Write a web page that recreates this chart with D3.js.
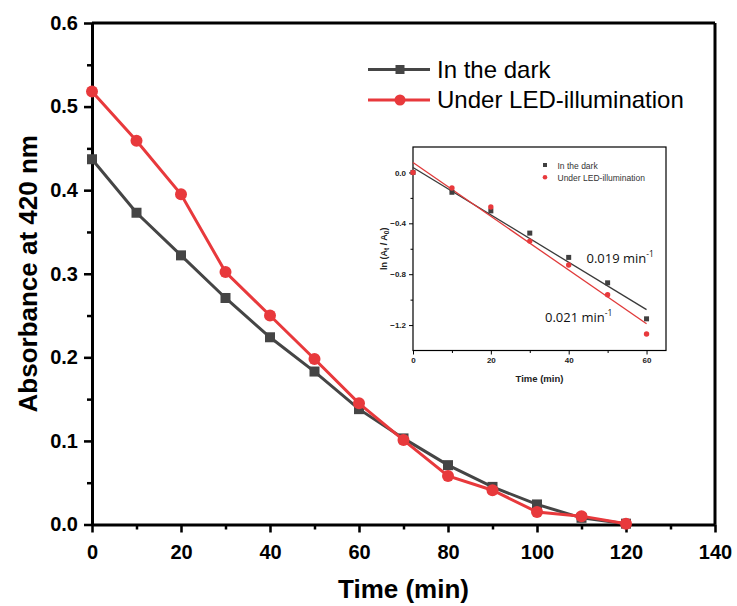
<!DOCTYPE html>
<html><head><meta charset="utf-8">
<script src="https://cdn.jsdelivr.net/npm/d3@7"></script>
<style>body{margin:0;background:#fff}svg{display:block}</style>
</head><body><svg id="c" width="737" height="606"></svg>
<script>
// ---- data ----
const times = [0,10,20,30,40,50,60,70,80,90,100,110,120];
const darkAbs = [0.437,0.373,0.322,0.271,0.224,0.183,0.138,0.103,0.071,0.045,0.024,0.008,0.001];
const ledAbs  = [0.518,0.459,0.395,0.302,0.250,0.198,0.145,0.101,0.058,0.041,0.015,0.010,0.001];
const seriesNames = ["In the dark","Under LED-illumination"];
const xTicks = [0,20,40,60,80,100,120,140];
const yTicks = [0,0.1,0.2,0.3,0.4,0.5,0.6];

const insetTimes = [0,10,20,30,40,50,60];
const insetDark = [0,-0.156,-0.302,-0.477,-0.668,-0.868,-1.151];
const insetLed  = [0,-0.122,-0.272,-0.540,-0.728,-0.962,-1.270];
const fitX = [0,60];
const fitDark = [0.039,-1.079];
const fitLed  = [0.078,-1.190];
const insetXTicks = [0,20,40,60];
const insetYTicks = [0,-0.4,-0.8,-1.2];
const rateLabels = ["0.019 min","0.021 min"];

// ---- styles ----
const C_DARK = "#454545", C_RED = "#e8393c";
const svg = d3.select("#c");
const FONT = "'Liberation Sans', Arial, sans-serif";

// ---- main chart ----
const x = d3.scaleLinear([0,140],[92,715]);
const y = d3.scaleLinear([0,0.6],[524.5,23]);

// frame top/right
svg.append("line").attr("x1",x(0)).attr("x2",x(140)).attr("y1",y(0.6)).attr("y2",y(0.6)).attr("stroke","#000").attr("stroke-width",3);
svg.append("line").attr("x1",x(140)).attr("x2",x(140)).attr("y1",y(0.6)).attr("y2",y(0)).attr("stroke","#000").attr("stroke-width",3);

function styleAxis(g, fs, sw){
  g.selectAll(".domain").attr("stroke","#000").attr("stroke-width",sw);
  g.selectAll(".tick line").attr("stroke","#000").attr("stroke-width",sw*0.85);
  g.selectAll(".tick text").attr("font-family",FONT).attr("font-weight","bold").attr("font-size",fs).attr("fill","#000");
}
// minor ticks
svg.append("g").attr("transform",`translate(${x(0)},0)`)
  .call(d3.axisLeft(y).tickValues(d3.range(0.05,0.6,0.1)).tickSize(5).tickFormat("").tickSizeOuter(0))
  .call(g=>{g.select(".domain").remove(); g.selectAll(".tick line").attr("stroke","#000").attr("stroke-width",2.5);});
svg.append("g").attr("transform",`translate(0,${y(0)})`)
  .call(d3.axisBottom(x).tickValues(d3.range(10,140,20)).tickSize(5).tickFormat("").tickSizeOuter(0))
  .call(g=>{g.select(".domain").remove(); g.selectAll(".tick line").attr("stroke","#000").attr("stroke-width",2.5);});

const gy = svg.append("g").attr("transform",`translate(${x(0)},0)`)
  .call(d3.axisLeft(y).tickValues(yTicks).tickFormat(d3.format(".1f")).tickSize(8).tickSizeOuter(0).tickPadding(6));
styleAxis(gy,20,3);
const gx = svg.append("g").attr("transform",`translate(0,${y(0)})`)
  .call(d3.axisBottom(x).tickValues(xTicks).tickSize(8).tickSizeOuter(0).tickPadding(12));
styleAxis(gx,20,3);

svg.append("text").attr("x",x(70)).attr("y",598).attr("text-anchor","middle")
  .attr("font-family",FONT).attr("font-weight","bold").attr("font-size",26).text("Time (min)");
svg.append("text").attr("transform",`translate(37,${(y(0)+y(0.6))/2}) rotate(-90)`).attr("text-anchor","middle")
  .attr("font-family",FONT).attr("font-weight","bold").attr("font-size",26).text("Absorbance at 420 nm");

const line = d3.line().x(d=>x(d[0])).y(d=>y(d[1]));
const darkPts = times.map((t,i)=>[t,darkAbs[i]]);
const ledPts = times.map((t,i)=>[t,ledAbs[i]]);
svg.append("path").datum(darkPts).attr("d",line).attr("fill","none").attr("stroke",C_DARK).attr("stroke-width",3);
svg.selectAll(".sq").data(darkPts).enter().append("rect")
  .attr("x",d=>x(d[0])-5).attr("y",d=>y(d[1])-5).attr("width",10).attr("height",10).attr("fill",C_DARK);
svg.append("path").datum(ledPts).attr("d",line).attr("fill","none").attr("stroke",C_RED).attr("stroke-width",3);
svg.selectAll(".ci").data(ledPts).enter().append("circle")
  .attr("cx",d=>x(d[0])).attr("cy",d=>y(d[1])).attr("r",6).attr("fill",C_RED);

// legend
const leg = [{n:seriesNames[0],c:C_DARK,s:"sq",y:69.5},{n:seriesNames[1],c:C_RED,s:"ci",y:100}];
leg.forEach(l=>{
  svg.append("line").attr("x1",368).attr("x2",430).attr("y1",l.y).attr("y2",l.y).attr("stroke",l.c).attr("stroke-width",3);
  if(l.s==="sq") svg.append("rect").attr("x",395.5).attr("y",l.y-4.5).attr("width",9).attr("height",9).attr("fill",l.c);
  else svg.append("circle").attr("cx",400).attr("cy",l.y).attr("r",5.5).attr("fill",l.c);
  svg.append("text").attr("x",437).attr("y",l.y+8.3).attr("font-family",FONT).attr("font-size",24).attr("fill","#000").text(l.n);
});

// ---- inset ----
const ix = d3.scaleLinear([0,65],[413,666]);
const iy = d3.scaleLinear([-1.4,0.2],[350.5,147]);
svg.append("rect").attr("x",ix(0)).attr("y",iy(0.2)).attr("width",ix(65)-ix(0)).attr("height",iy(-1.4)-iy(0.2))
  .attr("fill","#fff").attr("stroke","#000").attr("stroke-width",1.2);

function styleInset(g){
  g.selectAll(".domain").remove();
  g.selectAll(".tick line").attr("stroke","#000").attr("stroke-width",1);
  g.selectAll(".tick text").attr("font-family",FONT).attr("font-weight","bold").attr("font-size",8).attr("fill","#222");
}
svg.append("g").attr("transform",`translate(${ix(0)},0)`)
  .call(d3.axisLeft(iy).tickValues([-0.2,-0.6,-1.0]).tickSize(2.5).tickFormat("")).call(styleInset);
svg.append("g").attr("transform",`translate(0,${iy(-1.4)})`)
  .call(d3.axisBottom(ix).tickValues([10,30,50]).tickSize(2.5).tickFormat("")).call(styleInset);
svg.append("g").attr("transform",`translate(${ix(0)},0)`)
  .call(d3.axisLeft(iy).tickValues(insetYTicks).tickSize(4).tickPadding(3).tickFormat(d3.format(".1f"))).call(styleInset);
svg.append("g").attr("transform",`translate(0,${iy(-1.4)})`)
  .call(d3.axisBottom(ix).tickValues(insetXTicks).tickSize(4).tickPadding(3)).call(styleInset);

svg.append("text").attr("x",ix(32.5)).attr("y",382).attr("text-anchor","middle")
  .attr("font-family",FONT).attr("font-weight","bold").attr("font-size",9.5).attr("fill","#222").text("Time (min)");
const yl = svg.append("text").attr("transform",`translate(387,${(iy(0.2)+iy(-1.4))/2}) rotate(-90)`).attr("text-anchor","middle")
  .attr("font-family",FONT).attr("font-weight","bold").attr("font-size",9).attr("fill","#222");
yl.append("tspan").text("ln (A");
yl.append("tspan").attr("font-size",6.5).attr("dy",2).text("t");
yl.append("tspan").attr("dy",-2).text(" / A");
yl.append("tspan").attr("font-size",6.5).attr("dy",2).text("0");
yl.append("tspan").attr("dy",-2).text(")");

const iline = d3.line().x(d=>ix(d[0])).y(d=>iy(d[1]));
svg.append("path").datum(fitX.map((t,i)=>[t,fitDark[i]])).attr("d",iline).attr("stroke","#3a3a3a").attr("stroke-width",1.3).attr("fill","none");
svg.append("path").datum(fitX.map((t,i)=>[t,fitLed[i]])).attr("d",iline).attr("stroke","#e03a3a").attr("stroke-width",1.3).attr("fill","none");
svg.selectAll(".isq").data(insetTimes).enter().append("rect")
  .attr("x",(d,i)=>ix(d)-2.5).attr("y",(d,i)=>iy(insetDark[i])-2.5).attr("width",5).attr("height",5).attr("fill","#404040");
svg.selectAll(".ici").data(insetTimes).enter().append("circle")
  .attr("cx",d=>ix(d)).attr("cy",(d,i)=>iy(insetLed[i])).attr("r",2.7).attr("fill","#e8393c");

// inset legend
svg.append("rect").attr("x",543).attr("y",163).attr("width",4).attr("height",4).attr("fill","#404040");
svg.append("circle").attr("cx",545).attr("cy",177.3).attr("r",2.3).attr("fill","#e8393c");
svg.append("text").attr("x",557.5).attr("y",168.5).attr("font-family",FONT).attr("font-size",8.5).attr("fill","#333").text(seriesNames[0]);
svg.append("text").attr("x",557.5).attr("y",180.8).attr("font-family",FONT).attr("font-size",8.5).attr("fill","#333").text(seriesNames[1]);

// rate labels
function rate(tx,ty,s){
  const t = svg.append("text").attr("x",tx).attr("y",ty).attr("font-family","'Open Sans', "+FONT).attr("font-size",13).attr("fill","#111");
  t.append("tspan").text(s);
  t.append("tspan").attr("font-size",8.5).attr("dy",-6).text("-1");
}
rate(586.5,263,rateLabels[0]);
rate(545,322,rateLabels[1]);
</script></body></html>
